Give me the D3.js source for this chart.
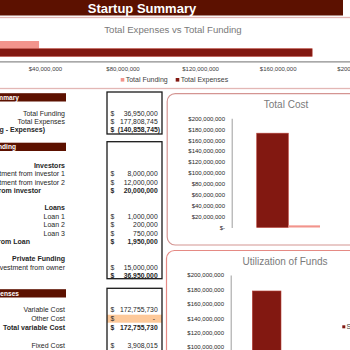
<!DOCTYPE html>
<html><head><meta charset="utf-8">
<script src="https://cdn.jsdelivr.net/npm/d3@7"></script>
<style>
html,body{margin:0;padding:0;background:#fff;overflow:hidden}
svg{display:block;font-family:"Liberation Sans",Arial,sans-serif}
</style></head>
<body>
<script>
// ---------- data ----------
const pageTitle = "Startup Summary";
const compareTitle = "Total Expenses vs Total Funding";
const compareSeries = ["Total Funding", "Total Expenses"];
const compareValues = [36950000, 177808745];
const compareTicks = [40000000, 80000000, 120000000, 160000000, 200000000];

const costTitle = "Total Cost";
const costSeries = ["Variable Cost", "Fixed Cost"];
const costValues = [172755730, 3908015];
const costTicks = [0, 20000000, 40000000, 60000000, 80000000, 100000000, 120000000, 140000000, 160000000, 180000000, 200000000];

const utilTitle = "Utilization of Funds";
const utilSeries = ["Series1"];
const utilValues = [177808745];
const utilTicks = [100000000, 120000000, 140000000, 160000000, 180000000, 200000000];

const summaryLabels = ["Total Funding", "Total Expenses", "Net (Funding - Expenses)"];
const summaryValues = [36950000, 177808745, -140858745];

const fundingLabels = ["Investors", "Investment from investor 1", "Investment from investor 2", "Total from investor", "", "Loans", "Loan 1", "Loan 2", "Loan 3", "Total from Loan", "", "Private Funding", "Investment from owner", ""];
const fundingValues = [null, 8000000, 12000000, 20000000, null, null, 1000000, 200000, 750000, 1950000, null, null, 15000000, 36950000];

const expenseLabels = ["Variable Cost", "Other Cost", "Total variable Cost", "", "Fixed Cost"];
const expenseValues = [172755730, 0, 172755730, null, 3908015];

const headingRows = ["Investors", "Loans", "Private Funding"];
const totalRows = ["Net (Funding - Expenses)", "Total from investor", "Total from Loan", "Total variable Cost"];

// ---------- drawing ----------
const W = 350, H = 350;
const DARK = "#5c1100", BAR_DARK = "#821811", BAR_LIGHT = "#f2948c";
const svg = d3.select("body").append("svg").attr("width", W).attr("height", H);

// Header
svg.append("rect").attr("x", -5).attr("y", -2).attr("width", 348).attr("height", 17.5).attr("fill", DARK);
svg.append("text").attr("x", 142).attr("y", 12.6).attr("text-anchor", "middle")
  .attr("fill", "#fff").attr("font-weight", "bold").attr("font-size", 13).text(pageTitle);

// ---- Horizontal compare chart ----
svg.append("rect").attr("x", -10).attr("y", 17.5).attr("width", 370).attr("height", 71)
  .attr("fill", "#fff").attr("stroke", "#e3b7b5").attr("stroke-width", 1.3);
svg.append("text").attr("x", 173).attr("y", 32.5).attr("text-anchor", "middle")
  .attr("fill", "#7a7a7a").attr("font-size", 9.6).text(compareTitle);

const hx = d3.scaleLinear().domain([0, 200000000]).range([-32.6, 355.2]);
const hy = d3.scaleBand().domain(compareSeries).range([41, 56.4]);
const hColor = d3.scaleOrdinal().domain(compareSeries).range([BAR_LIGHT, BAR_DARK]);
svg.append("g").selectAll("rect").data(compareSeries).join("rect")
  .attr("x", hx(0)).attr("y", d => hy(d))
  .attr("width", (d, i) => hx(compareValues[i]) - hx(0)).attr("height", hy.bandwidth())
  .attr("fill", d => hColor(d))
  .attr("stroke", d => d === "Total Expenses" ? "#b8443b" : "none").attr("stroke-width", 0.6);

const moneyFmt = v => v === 0 ? "$-" : "$" + d3.format(",")(v);
const hAxis = d3.axisBottom(hx).tickValues(compareTicks).tickFormat(moneyFmt).tickSize(0).tickPadding(5);
const hg = svg.append("g").attr("transform", "translate(0,61.3)").call(hAxis);
hg.select(".domain").attr("stroke", "#8c8c8c").attr("stroke-width", 1.2);
hg.selectAll("text").attr("font-size", 6).attr("fill", "#404040").attr("font-family", "Liberation Sans, Arial, sans-serif");

const hLegend = svg.append("g");
const legendX = [120.7, 175.7];
compareSeries.forEach((s, i) => {
  hLegend.append("rect").attr("x", legendX[i]).attr("y", 78).attr("width", 3.6).attr("height", 3.6).attr("fill", hColor(s));
  hLegend.append("text").attr("x", legendX[i] + 5).attr("y", 82.3).attr("font-size", 7).attr("fill", "#404040").text(s);
});

// ---- Left table ----
const acct = v => v < 0 ? "(" + d3.format(",")(-v) + ")" : (v === 0 ? "-" : d3.format(",")(v));
function band(y, label, endX) {
  svg.append("rect").attr("x", -10).attr("y", y).attr("width", 76).attr("height", 8.3).attr("fill", DARK);
  svg.append("text").attr("x", endX).attr("y", y + 6.3).attr("text-anchor", "end")
    .attr("fill", "#fff").attr("font-weight", "bold").attr("font-size", 6.6).text(label);
}
function box(y, h) {
  svg.append("rect").attr("x", 107).attr("y", y).attr("width", 55).attr("height", h)
    .attr("fill", "none").attr("stroke", "#1a1a1a").attr("stroke-width", 1.3);
}
const labelEnd = {"Net (Funding - Expenses)": 45, "Total from investor": 41, "Total from Loan": 30};
function rows(labels, values, y0, step) {
  labels.forEach((lab, i) => {
    const y = y0 + i * step;
    const bold = headingRows.includes(lab) || totalRows.includes(lab) || (lab === "" && values[i] != null);
    if (lab) {
      svg.append("text").attr("x", labelEnd[lab] || 65).attr("y", y).attr("dy", "0.35em")
        .attr("text-anchor", "end").attr("font-size", 7).attr("fill", "#262626")
        .attr("font-weight", bold ? "bold" : "normal")
        .text(lab);
    }
    if (values[i] != null) {
      svg.append("text").attr("x", 110.5).attr("y", y).attr("dy", "0.35em").attr("font-size", 6.8)
        .attr("fill", "#262626").attr("font-weight", bold ? "bold" : "normal").text("$");
      svg.append("text").attr("x", values[i] < 0 ? 160 : (values[i] === 0 ? 155 : 157.7)).attr("y", y).attr("dy", "0.35em")
        .attr("text-anchor", "end").attr("font-size", 6.8).attr("fill", "#262626")
        .attr("font-weight", bold ? "bold" : "normal").text(acct(values[i]));
    }
  });
}

// Summary
band(93.2, "Summary", 19);
box(92, 42);
rows(summaryLabels, summaryValues, 113.3, 8.2);

// Funding
band(142.7, "Funding", 16);
box(141.7, 137);
rows(fundingLabels, fundingValues, 165.3, 8.5);

// Expenses
svg.append("rect").attr("x", 107).attr("y", 314.7).attr("width", 55).attr("height", 8).attr("fill", "#fdc99a");
band(289.2, "Expenses", 19);
box(288.3, 80);
rows(expenseLabels, expenseValues, 309.7, 8.9);

// ---- Total Cost panel ----
svg.append("rect").attr("x", 167.2).attr("y", 93.6).attr("width", 260).attr("height", 151.4).attr("rx", 8)
  .attr("fill", "#fff").attr("stroke", "#d49592").attr("stroke-width", 1.2);
svg.append("text").attr("x", 286).attr("y", 107.8).attr("text-anchor", "middle")
  .attr("fill", "#7a7a7a").attr("font-size", 10).text(costTitle);
const cy = d3.scaleLinear().domain([0, 200000000]).range([227.5, 118.3]);
const cx = d3.scaleBand().domain(["Cost"]).range([231.7, 345]).paddingOuter(0.395);
const cxs = d3.scaleBand().domain(costSeries).range([0, cx.bandwidth()]);
const cColor = d3.scaleOrdinal().domain(costSeries).range([BAR_DARK, BAR_LIGHT]);
const cAxis = d3.axisLeft(cy).tickValues(costTicks).tickFormat(moneyFmt).tickSize(0).tickPadding(6.7);
const cg = svg.append("g").attr("transform", "translate(231.7,0)").call(cAxis);
cg.select(".domain").attr("stroke", "#a6a6a6").attr("stroke-width", 1.1);
cg.selectAll("text").attr("font-size", 6).attr("fill", "#262626").attr("font-family", "Liberation Sans, Arial, sans-serif");
svg.append("g").selectAll("rect").data(costSeries).join("rect")
  .attr("x", d => cx("Cost") + cxs(d)).attr("width", cxs.bandwidth())
  .attr("y", (d, i) => cy(costValues[i])).attr("height", (d, i) => cy(0) - cy(costValues[i]))
  .attr("fill", d => cColor(d)).attr("stroke", (d, i) => i === 0 ? "#b8443b" : "none").attr("stroke-width", 0.6);

// ---- Utilization panel ----
svg.append("rect").attr("x", 166.5).attr("y", 250.5).attr("width", 260).attr("height", 160).attr("rx", 8)
  .attr("fill", "#fff").attr("stroke", "#e58a84").attr("stroke-width", 1.2);
svg.append("text").attr("x", 285).attr("y", 264.5).attr("text-anchor", "middle")
  .attr("fill", "#7a7a7a").attr("font-size", 10).text(utilTitle);
const uy = d3.scaleLinear().domain([0, 200000000]).range([419, 275]);
const ux = d3.scaleBand().domain(utilSeries).range([230.7, 302.6]).paddingOuter(0.753);
const uAxis = d3.axisLeft(uy).tickValues(utilTicks).tickFormat(moneyFmt).tickSize(0).tickPadding(6.7);
const ug = svg.append("g").attr("transform", "translate(230.7,0)").call(uAxis);
ug.select(".domain").attr("stroke", "#a6a6a6").attr("stroke-width", 1.1);
ug.selectAll("text").attr("font-size", 6).attr("fill", "#262626").attr("font-family", "Liberation Sans, Arial, sans-serif");
svg.append("g").selectAll("rect").data(utilSeries).join("rect")
  .attr("x", d => ux(d)).attr("width", ux.bandwidth())
  .attr("y", (d, i) => uy(utilValues[i])).attr("height", (d, i) => uy(0) - uy(utilValues[i]))
  .attr("fill", BAR_DARK).attr("stroke", "#b8443b").attr("stroke-width", 0.6);
svg.append("rect").attr("x", 342.3).attr("y", 325.3).attr("width", 3).attr("height", 3).attr("fill", BAR_DARK);
svg.append("text").attr("x", 346.5).attr("y", 329).attr("font-size", 7).attr("fill", "#404040").text(utilSeries[0]);
</script>
</body></html>
